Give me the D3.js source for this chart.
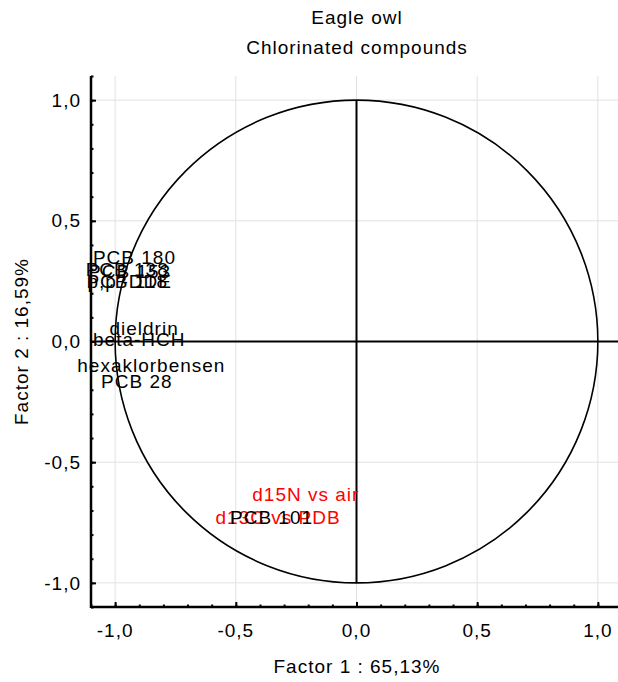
<!DOCTYPE html>
<html>
<head>
<meta charset="utf-8">
<script src="https://cdn.jsdelivr.net/npm/d3@7"></script>
<style>
  html, body { margin: 0; padding: 0; background: #fff; }
  svg text { font-family: "Liberation Sans", Arial, sans-serif; letter-spacing: 1px; }
</style>
</head>
<body>
<svg id="chart" width="618" height="682"></svg>
<script>
// Variable loadings on factors 1 and 2
const variables = ["PCB 180", "PCB 138", "PCB 153", "PCB 118", "p,p'-DDE",
                   "dieldrin", "beta-HCH", "hexaklorbensen", "PCB 28",
                   "d15N vs air", "d13C vs PDB", "PCB 101"];
const factor1 = [-0.92, -0.95, -0.94, -0.95, -0.94,
                 -0.88, -0.90, -0.85, -0.91,
                 -0.21, -0.325, -0.352];
const factor2 = [0.35, 0.30, 0.29, 0.25, 0.25,
                 0.055, 0.01, -0.10, -0.165,
                 -0.635, -0.73, -0.73];
const labelColors = ["#000", "#000", "#000", "#000", "#000",
                     "#000", "#000", "#000", "#000",
                     "#ff0000", "#ff0000", "#000"];
const tickValues = [-1.0, -0.5, 0.0, 0.5, 1.0];
const titleLines = ["Eagle owl", "Chlorinated compounds"];
const xTitle = "Factor 1 : 65,13%";
const yTitle = "Factor 2 : 16,59%";

const FONT = 19;
const svg = d3.select("#chart");
const x = d3.scaleLinear().domain([-1.1, 1.1]).range([91, 622]);
const y = d3.scaleLinear().domain([-1.1, 1.1]).range([607, 76]);
const locale = d3.formatLocale({ decimal: ",", thousands: " ", grouping: [3], currency: ["", ""], minus: "-" });
const fmt = locale.format(".1f");

// light grid at major ticks
const grid = svg.append("g").attr("stroke", "#e2e2e2").attr("stroke-width", 1);
grid.selectAll("line.v").data(tickValues).join("line")
  .attr("x1", d => x(d)).attr("x2", d => x(d))
  .attr("y1", y.range()[0]).attr("y2", y.range()[1]);
grid.selectAll("line.h").data(tickValues).join("line")
  .attr("y1", d => y(d)).attr("y2", d => y(d))
  .attr("x1", x.range()[0]).attr("x2", x.range()[1]);

// unit circle and the zero lines
svg.append("ellipse")
  .attr("cx", x(0)).attr("cy", y(0))
  .attr("rx", x(1) - x(0)).attr("ry", y(0) - y(1))
  .attr("fill", "none").attr("stroke", "#000").attr("stroke-width", 1.6);
svg.append("line")
  .attr("x1", x(0)).attr("x2", x(0)).attr("y1", y(1)).attr("y2", y(-1))
  .attr("stroke", "#000").attr("stroke-width", 2);
svg.append("line")
  .attr("x1", x.range()[0]).attr("x2", x.range()[1]).attr("y1", y(0)).attr("y2", y(0))
  .attr("stroke", "#000").attr("stroke-width", 2);

// axes with inward ticks
const minor = d3.range(-11, 12).map(i => i / 10);
const xAxis = svg.append("g").attr("transform", `translate(0,${y.range()[0]})`);
xAxis.call(d3.axisTop(x).tickValues(minor).tickSize(2.5).tickFormat(""));
const xMajor = svg.append("g").attr("transform", `translate(0,${y.range()[0]})`);
xMajor.call(d3.axisTop(x).tickValues(tickValues).tickSize(5).tickFormat(""));
const yAxis = svg.append("g").attr("transform", `translate(${x.range()[0]},0)`);
yAxis.call(d3.axisRight(y).tickValues(minor).tickSize(2.5).tickFormat(""));
const yMajor = svg.append("g").attr("transform", `translate(${x.range()[0]},0)`);
yMajor.call(d3.axisRight(y).tickValues(tickValues).tickSize(5).tickFormat(""));
svg.selectAll(".domain").remove();
svg.selectAll(".tick line").attr("stroke", "#000").attr("stroke-width", 2);

svg.append("line")
  .attr("x1", x.range()[0]).attr("x2", 622).attr("y1", y.range()[0]).attr("y2", y.range()[0])
  .attr("stroke", "#000").attr("stroke-width", 2.5);
svg.append("line")
  .attr("x1", x.range()[0]).attr("x2", x.range()[0]).attr("y1", y.range()[1]).attr("y2", y.range()[0] + 1)
  .attr("stroke", "#000").attr("stroke-width", 2.5);

// tick labels
svg.append("g").selectAll("text").data(tickValues).join("text")
  .attr("x", d => x(d)).attr("y", 637)
  .attr("text-anchor", "middle").attr("font-size", FONT).attr("fill", "#000")
  .text(fmt);
svg.append("g").selectAll("text").data(tickValues).join("text")
  .attr("x", 81).attr("y", d => y(d)).attr("dy", "0.35em")
  .attr("text-anchor", "end").attr("font-size", FONT).attr("fill", "#000")
  .text(fmt);

// titles
svg.append("g").selectAll("text").data(titleLines).join("text")
  .attr("x", 357).attr("y", (d, i) => 24 + i * 30)
  .attr("text-anchor", "middle").attr("font-size", FONT).attr("fill", "#000")
  .text(d => d);
svg.append("text")
  .attr("x", 357).attr("y", 673)
  .attr("text-anchor", "middle").attr("font-size", FONT).attr("fill", "#000")
  .text(xTitle);
svg.append("text")
  .attr("transform", `translate(28,${y(0)}) rotate(-90)`)
  .attr("text-anchor", "middle").attr("font-size", FONT).attr("fill", "#000")
  .text(yTitle);

// variable labels centred on their loadings
svg.append("g").selectAll("text").data(variables).join("text")
  .attr("x", (d, i) => x(factor1[i]))
  .attr("y", (d, i) => y(factor2[i]))
  .attr("dy", "0.35em")
  .attr("text-anchor", "middle").attr("font-size", FONT)
  .attr("fill", (d, i) => labelColors[i])
  .text(d => d);
</script>
</body>
</html>
